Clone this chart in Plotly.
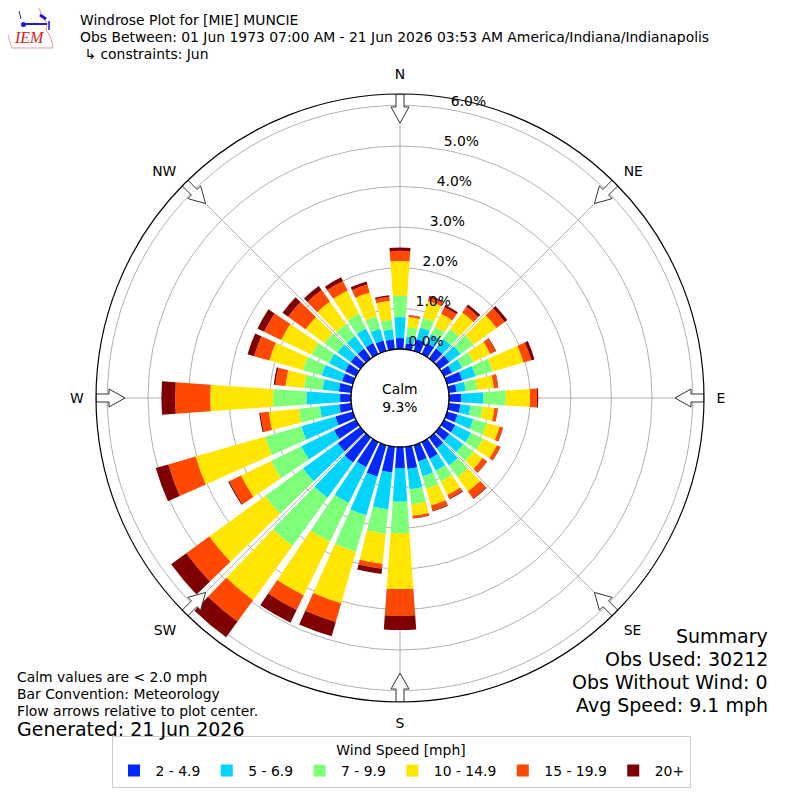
import math
import numpy as np
import plotly.graph_objects as go

# wind direction bins (deg, meteorological convention: where wind comes from)
DIRECTIONS = list(range(0, 360, 10))

# percent of observations per direction, one list per speed bin
SPEED_2_5 = [0.27, 0.15, 0.30, 0.30, 0.30, 0.30, 0.22, 0.39, 0.20, 0.31,
             0.29, 0.27, 0.31, 0.30, 0.33, 0.46, 0.42, 0.55, 0.52, 0.64,
             0.81, 0.69, 0.76, 0.69, 0.60, 0.45, 0.30, 0.27, 0.31, 0.28,
             0.30, 0.30, 0.30, 0.30, 0.27, 0.25]
SPEED_5_7 = [0.52, 0.17, 0.30, 0.25, 0.30, 0.34, 0.28, 0.34, 0.22, 0.54,
             0.25, 0.40, 0.43, 0.42, 0.52, 0.33, 0.38, 0.51, 0.83, 0.91,
             0.99, 0.98, 1.07, 1.06, 0.90, 0.87, 0.48, 0.83, 0.40, 0.52,
             0.44, 0.40, 0.38, 0.40, 0.30, 0.25]
SPEED_7_10 = [0.52, 0.23, 0.25, 0.20, 0.30, 0.39, 0.31, 0.44, 0.29, 0.55,
              0.30, 0.35, 0.33, 0.32, 0.35, 0.29, 0.32, 0.37, 0.77, 0.61,
              0.93, 1.06, 1.47, 1.15, 0.83, 0.93, 0.52, 0.82, 0.46, 0.48,
              0.48, 0.40, 0.37, 0.40, 0.31, 0.24]
SPEED_10_15 = [0.86, 0.25, 0.43, 0.35, 0.50, 0.70, 0.46, 0.79, 0.41, 0.60,
               0.29, 0.33, 0.38, 0.27, 0.44, 0.37, 0.43, 0.28, 1.38, 0.74,
               1.32, 1.47, 1.65, 1.70, 0.82, 1.78, 0.74, 1.55, 0.46, 0.86,
               0.83, 0.57, 0.68, 0.64, 0.62, 0.46]
SPEED_15_20 = [0.25, 0.04, 0.09, 0.18, 0.17, 0.25, 0.14, 0.20, 0.10, 0.17,
               0.08, 0.08, 0.09, 0.13, 0.21, 0.10, 0.13, 0.06, 0.66, 0.12,
               0.48, 0.40, 0.65, 0.70, 0.32, 0.70, 0.21, 0.86, 0.25, 0.39,
               0.47, 0.53, 0.35, 0.26, 0.20, 0.10]
SPEED_20P = [0.08, 0.01, 0.04, 0.06, 0.07, 0.08, 0.02, 0.08, 0.01, 0.03,
             0.01, 0.01, 0.01, 0.01, 0.02, 0.02, 0.02, 0.01, 0.35, 0.13,
             0.37, 0.35, 0.48, 0.46, 0.03, 0.32, 0.03, 0.34, 0.04, 0.17,
             0.18, 0.17, 0.12, 0.10, 0.08, 0.04]

BINS = [
    ("2 - 4.9", SPEED_2_5, "#0028ff"),
    ("5 - 6.9", SPEED_5_7, "#00d4ff"),
    ("7 - 9.9", SPEED_7_10, "#7dff7a"),
    ("10 - 14.9", SPEED_10_15, "#ffe500"),
    ("15 - 19.9", SPEED_15_20, "#ff4800"),
    ("20+", SPEED_20P, "#7f0000"),
]

CALM_PCT = 9.3
RING_TICKS = [0, 1, 2, 3, 4, 5, 6]
RING_LABEL_DIR = 10  # bearing where the ring labels sit
COMPASS = ["N", "NE", "E", "SE", "S", "SW", "W", "NW"]
COMPASS_DEG = [0, 45, 90, 135, 180, 225, 270, 315]

RMAX = 6.28
HOLE = 0.161
R_PX = 304  # outer radius of the polar area in pixels
FONT = "DejaVu Sans"
FS = 13.9   # 10pt
FS_BIG = 19

# the page body has an 8px margin, so the figure is 784px and shifted by 8
SIZE = 784
OFF = 8


def px(x, y):
    return (x - OFF) / SIZE, 1 - (y - OFF) / SIZE


def px_to_r(d):
    hole_px = HOLE * R_PX
    return (d - hole_px) / (R_PX - hole_px) * RMAX


def arrow(bearing):
    # hollow arrow on the rim pointing to the centre, shape in pixels (along, across)
    shape = [(304, 4), (291, 4), (291, 9), (275, 0), (291, -9), (291, -4), (304, -4), (304, 4)]
    rr, tt = [], []
    for d, w in shape:
        rr.append(px_to_r(math.hypot(d, w)))
        tt.append(bearing + math.degrees(math.atan2(w, d)))
    return rr, tt


fig = go.Figure()

for name, vals, color in BINS:
    fig.add_trace(go.Barpolar(
        r=vals, theta=DIRECTIONS, width=8, name=name,
        marker=dict(color=color, line=dict(width=0)),
    ))

# black edge around the calm circle
ring_t = np.linspace(0, 360, 181)
fig.add_trace(go.Scatterpolar(
    r=[0] * len(ring_t), theta=ring_t, mode="lines",
    line=dict(color="black", width=1.2), showlegend=False, hoverinfo="skip",
))

for b in COMPASS_DEG:
    rr, tt = arrow(b)
    fig.add_trace(go.Scatterpolar(
        r=rr, theta=tt, mode="lines", fill="toself", fillcolor="white",
        line=dict(color="#333333", width=1), showlegend=False, hoverinfo="skip",
    ))

# ring labels
fig.add_trace(go.Scatterpolar(
    r=RING_TICKS, theta=[RING_LABEL_DIR] * len(RING_TICKS), mode="text",
    text=[f"{v:.1f}%" for v in RING_TICKS], textposition="top right",
    textfont=dict(size=FS, family=FONT, color="black"),
    showlegend=False, hoverinfo="skip", cliponaxis=False,
))

cx0, cy0 = px(400 - R_PX, 398 + R_PX)
cx1, cy1 = px(400 + R_PX, 398 - R_PX)
lx, ly = px(401, 788)

fig.update_layout(
    width=SIZE, height=SIZE,
    margin=dict(l=0, r=0, t=0, b=0),
    paper_bgcolor="white",
    font=dict(family=FONT, size=FS, color="black"),
    polar=dict(
        domain=dict(x=[cx0, cx1], y=[cy0, cy1]),
        hole=HOLE,
        bgcolor="white",
        barmode="stack",
        angularaxis=dict(
            rotation=90, direction="clockwise",
            tickmode="array", tickvals=COMPASS_DEG, ticktext=COMPASS,
            showgrid=True, gridcolor="#b0b0b0", gridwidth=1,
            showline=True, linecolor="black", linewidth=1.2,
            ticks="outside", ticklen=9, tickcolor="rgba(0,0,0,0)",
            tickfont=dict(size=FS),
        ),
        radialaxis=dict(
            range=[0, RMAX], angle=80,
            tickmode="array", tickvals=RING_TICKS, showticklabels=False,
            showgrid=True, gridcolor="#b0b0b0", gridwidth=1,
            showline=False, ticks="",
        ),
    ),
    legend=dict(
        orientation="h", x=lx, xanchor="center", y=ly, yanchor="bottom",
        bordercolor="#cccccc", borderwidth=1, font=dict(size=FS),
        itemwidth=33,
        title=dict(text="Wind Speed [mph]", side="top center", font=dict(size=FS)),
    ),
)

ann = [
    (78, 20, "Windrose Plot for [MIE] MUNCIE", FS),
    (78, 37, "Obs Between: 01 Jun 1973 07:00 AM - 21 Jun 2026 03:53 AM America/Indiana/Indianapolis", FS),
    (78, 54, " ↳ constraints: Jun", FS),
    (15, 677, "Calm values are < 2.0 mph", FS),
    (15, 694, "Bar Convention: Meteorology", FS),
    (15, 711, "Flow arrows relative to plot center.", FS),
    (15, 729, "Generated: 21 Jun 2026", FS_BIG),
]
annotations = []
for x, y, text, size in ann:
    ax_, ay_ = px(x, y)
    annotations.append(dict(
        xref="paper", yref="paper", x=ax_, y=ay_,
        xanchor="left", yanchor="middle", showarrow=False, text=text,
        font=dict(size=size, family=FONT),
    ))

summary = ["Summary", "Obs Used: 30212", "Obs Without Wind: 0", "Avg Speed: 9.1 mph"]
for i, line in enumerate(summary):
    ax_, ay_ = px(770, 636 + 23 * i)
    annotations.append(dict(
        xref="paper", yref="paper", x=ax_, y=ay_,
        xanchor="right", yanchor="middle", showarrow=False, text=line,
        font=dict(size=FS_BIG, family=FONT),
    ))

ax_, ay_ = px(400, 398)
annotations.append(dict(
    xref="paper", yref="paper", x=ax_, y=ay_, xanchor="center", yanchor="middle",
    showarrow=False, text=f"Calm<br>{CALM_PCT:.1f}%", font=dict(size=FS, family=FONT),
))

# IEM logo stand-in: state outline, station glyph and letters
ax_, ay_ = px(29, 38)
annotations.append(dict(
    xref="paper", yref="paper", x=ax_, y=ay_, xanchor="center", yanchor="middle",
    showarrow=False, text="<i>IEM</i>",
    font=dict(size=16, family="Liberation Serif", color="#d42020"),
))

outline = [(5, 7), (38, 7), (40, 10), (41, 15), (45, 20), (47, 24), (46, 30), (50, 36),
           (52, 42), (53, 48), (12, 48), (10, 42), (8, 36), (7, 28), (6, 20), (4, 12)]
path = "M " + " L ".join(f"{px(x, y)[0]:.4f},{px(x, y)[1]:.4f}" for x, y in outline) + " Z"
shapes = [dict(type="path", xref="paper", yref="paper", path=path,
               line=dict(color="#e89a9a", width=1))]
for (x0, y0), (x1, y1), w in [((23, 24), (47, 24), 2), ((40, 15), (46, 19), 3),
                              ((19, 11), (21, 19), 1), ((49, 21), (49, 30), 1.5)]:
    p0, p1 = px(x0, y0), px(x1, y1)
    shapes.append(dict(type="line", xref="paper", yref="paper",
                       x0=p0[0], y0=p0[1], x1=p1[0], y1=p1[1],
                       line=dict(color="#1a1adc", width=w)))
c0, c1 = px(21, 22), px(26, 27)
shapes.append(dict(type="circle", xref="paper", yref="paper",
                   x0=c0[0], y0=c0[1], x1=c1[0], y1=c1[1],
                   fillcolor="#1a1adc", line=dict(width=0)))

fig.update_layout(annotations=annotations, shapes=shapes)
fig.write_html("out.html")
